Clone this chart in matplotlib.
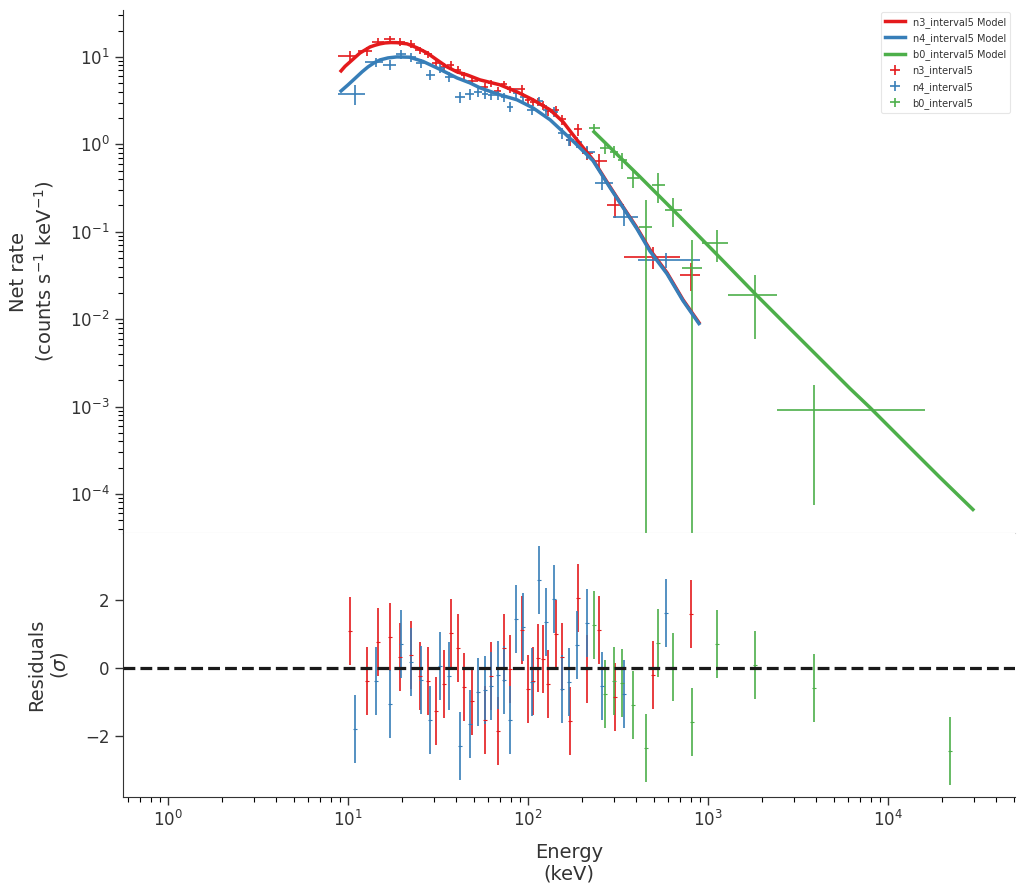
import numpy as np
import matplotlib
matplotlib.use("Agg")
import matplotlib.pyplot as plt

# ---------------- data ----------------
# n3 (red) data
n3_energy = [10.26, 12.75, 14.68, 17.11, 19.45, 22.39, 25.12, 27.83, 30.83, 34.15,
             37.35, 40.84, 44.1, 48.86, 57.7, 62.3, 68.1, 73.6, 79.4, 92.6,
             100.0, 106.6, 113.6, 121.2, 129.2, 143.1, 154.5, 171.1, 189.6, 212.7,
             248.0, 304.3, 494.8, 804.6]
n3_edges = [8.80, 11.36, 13.59, 15.85, 18.24, 20.74, 23.56, 26.44, 29.29, 32.44,
            35.48, 38.8, 42.45, 46.42, 52.75, 59.95, 64.73, 70.79, 76.42, 85.77,
            96.23, 102.6, 109.4, 116.6, 124.3, 135.9, 148.7, 162.6, 180.1, 199.5,
            229.7, 274.8, 341.5, 698.9, 902.8]
n3_rate = [10.27, 11.7, 15.0, 15.85, 14.84, 14.08, 11.9, 10.7, 8.54, 7.69,
           8.1, 7.1, 6.15, 5.32, 4.54, 4.97, 4.03, 4.86, 4.24, 4.25,
           3.23, 3.06, 3.06, 2.83, 2.41, 2.45, 1.93, 1.126, 1.48, 0.80,
           0.639, 0.2035, 0.0518, 0.0323]
n3_err = [1.44, 1.40, 1.5, 1.59, 1.48, 1.41, 1.19, 1.07, 0.85, 0.77,
          0.81, 0.71, 0.62, 0.53, 0.45, 0.50, 0.44, 0.49, 0.42, 0.51,
          0.36, 0.34, 0.34, 0.34, 0.29, 0.32, 0.25, 0.17, 0.22, 0.14,
          0.128, 0.061, 0.0145, 0.0113]
n3_resid = [1.09, -0.38, 0.76, 0.91, 0.32, 0.38, -0.24, -0.38, -1.26, -0.47,
            1.03, 0.59, -0.56, -0.97, -1.53, -0.24, -1.85, 0.59, -0.03, 1.12,
            -0.62, -0.38, 0.29, 0.26, -0.47, 1.0, 0.32, -1.56, 2.06, -0.03,
            1.12, -0.85, -0.21, 1.59]

# n4 (blue) data
n4_energy = [10.94, 14.3, 17.11, 19.7, 22.39, 25.44, 28.55, 32.44, 36.4, 41.9,
             47.6, 52.8, 57.7, 62.3, 68.1, 73.6, 79.4, 85.8, 93.8, 105.2,
             115.1, 125.9, 139.5, 154.5, 169.0, 187.2, 212.7, 257.7, 341.5, 584.5]
n4_edges = [8.80, 12.43, 15.65, 18.36, 21.0, 23.87, 26.96, 30.43, 34.37, 39.05,
            44.67, 50.12, 55.17, 59.95, 65.15, 70.79, 76.42, 82.54, 89.73, 99.36,
            110.1, 120.4, 132.5, 146.8, 161.6, 177.8, 199.5, 234.2, 296.6, 408.4, 902.8]
n4_rate = [3.78, 8.65, 8.10, 10.82, 10.0, 8.54, 6.23, 7.49, 5.91, 3.49,
           3.78, 3.98, 3.78, 3.68, 3.68, 3.44, 2.68, 3.88, 3.49, 2.48,
           3.14, 2.48, 2.35, 1.35, 1.126, 1.068, 0.821, 0.363, 0.148, 0.0478]
n4_err = [0.95, 1.04, 1.05, 1.30, 1.2, 1.02, 0.81, 0.90, 0.77, 0.52,
          0.53, 0.48, 0.45, 0.44, 0.44, 0.41, 0.35, 0.47, 0.42, 0.32,
          0.38, 0.32, 0.31, 0.20, 0.17, 0.16, 0.14, 0.065, 0.033, 0.0096]
n4_resid = [-1.8, -0.38, -1.06, 0.71, 0.18, -0.35, -1.53, 0.06, -0.24, -2.3,
            -1.65, -0.71, -0.65, -0.53, -0.21, -0.35, -1.53, 1.44, 1.2, -0.41,
            2.59, 1.35, 2.03, -0.62, -0.41, 0.68, 1.32, -0.53, -0.76, 1.62]

# b0 (green) data
b0_energy = [233, 268, 300, 333, 383, 453, 527, 639, 815, 1122, 1824, 3882, 22100]
b0_lo = [218, 250, 285, 318, 355, 415, 490, 575, 715, 925, 1300, 2430, 16000]
b0_hi = [250, 285, 318, 355, 415, 490, 575, 715, 925, 1300, 2430, 16000, 30000]
b0_rate = [1.55, 0.912, 0.821, 0.666, 0.414, 0.114, 0.344, 0.178, 0.0388, 0.0748,
           0.0190, 9.25e-4, 1e-6]
b0_err = [0.16, 0.14, 0.13, 0.14, 0.10, 0.118, 0.13, 0.065, 0.042, 0.03,
          0.013, 8.5e-4, 2e-5]
b0_resid = [1.26, -0.76, -0.38, -0.44, -1.09, -2.35, 0.74, 0.03, -1.59, 0.71,
            0.09, -0.59, -2.44]

# model curves
n3_model_E = [9.15, 9.62, 10.26, 10.94, 11.66, 12.43, 13.25, 14.13, 15.06, 16.06,
              17.3, 18.7, 21.3, 24.2, 27.5, 31.2, 35.5, 40.3, 45.8, 54.1, 69.9,
              86.9, 106.6, 132.6, 156.5, 187, 229.7, 285.5, 337, 403, 476, 592,
              726, 891]
n3_model = [6.92, 7.79, 8.77, 9.87, 11.1, 12.0, 13.0, 13.6, 14.1, 14.45,
            14.6, 14.55, 14.1, 12.7, 11.1, 9.24, 7.69, 6.74, 6.23, 5.46, 4.79,
            3.98, 3.23, 2.48, 1.81, 1.125, 0.665, 0.327, 0.193, 0.111, 0.0622,
            0.034, 0.0167, 0.00912]
n4_model_E = [9.15, 10.0, 10.94, 11.96, 12.92, 13.95, 15.06, 16.68, 18.7, 22.0,
              26.1, 31.2, 35.5, 40.3, 47.5, 54.1, 69.9, 86.9, 106.6, 132.6, 156.5,
              182, 229.7, 285.5, 337, 403, 476, 592, 726, 891]
n4_model = [4.08, 4.79, 5.68, 6.74, 7.69, 8.54, 9.24, 9.74, 10.0, 9.92,
            8.88, 7.48, 6.56, 5.75, 5.05, 4.43, 3.68, 3.23, 2.61, 1.91, 1.39,
            1.04, 0.65, 0.32, 0.19, 0.108, 0.060, 0.033, 0.0163, 0.0089]
b0_model_E = [232.6, 419, 699, 1166, 1824, 2855, 4034, 6150, 7943, 13770,
              19430, 29650]
b0_model = [1.39, 0.425, 0.148, 0.0505, 0.0196, 7.79e-3, 3.83e-3, 1.61e-3,
            9.75e-4, 3.14e-4, 1.55e-4, 6.65e-5]

labels = ["n3_interval5", "n4_interval5", "b0_interval5"]
colors = ["#e41a1c", "#377eb8", "#4daf4a"]

# ---------------- figure ----------------
W, H = 1023, 894
fig = plt.figure(figsize=(W / 100, H / 100), dpi=100)
left, right = 123 / W, 1015 / W
y_top, y_mid, y_bot = 1 - 10 / H, 1 - 533 / H, 1 - 797 / H
ax = fig.add_axes([left, y_mid, right - left, y_top - y_mid])
axr = fig.add_axes([left, y_bot, right - left, y_mid - y_bot], sharex=ax)

text_c = "#333333"
for a in (ax, axr):
    a.set_facecolor("white")
    for s in a.spines.values():
        s.set_color(text_c)
    a.tick_params(colors=text_c, labelcolor=text_c, labelsize=12, direction="out")
    a.tick_params(which="major", length=6, width=1)
    a.tick_params(which="minor", length=3.5, width=0.8)

ax.set_xscale("log")
ax.set_yscale("log")

def xerr_from_edges(E, edges):
    E = np.asarray(E)
    ed = np.asarray(edges)
    return np.vstack([E - ed[:-1], ed[1:] - E])

datasets = [
    (n3_energy, xerr_from_edges(n3_energy, n3_edges), n3_rate, n3_err, n3_resid,
     n3_model_E, n3_model),
    (n4_energy, xerr_from_edges(n4_energy, n4_edges), n4_rate, n4_err, n4_resid,
     n4_model_E, n4_model),
    (b0_energy, np.vstack([np.array(b0_energy) - np.array(b0_lo),
                           np.array(b0_hi) - np.array(b0_energy)]),
     b0_rate, b0_err, b0_resid, b0_model_E, b0_model),
]

line_handles, data_handles = [], []
for (E, xe, r, re, res, mE, m), lab, c in zip(datasets, labels, colors):
    h, = ax.plot(mE, m, color=c, lw=2.5, label=lab + " Model", zorder=3,
                 solid_joinstyle="round")
    line_handles.append(h)
for (E, xe, r, re, res, mE, m), lab, c in zip(datasets, labels, colors):
    d = ax.errorbar(E, r, xerr=xe, yerr=re, fmt="none", ecolor=c, elinewidth=1.2,
                    label=lab, zorder=2)
    data_handles.append(d)
    axr.errorbar(E, res, yerr=np.ones(len(res)), fmt="_", color=c, ecolor=c,
                 elinewidth=1.2, ms=3, mew=0.8, zorder=2)

ax.set_xlim(0.562, 50800)
ax.set_ylim(3.58e-5, 34.4)
axr.set_ylim(-3.79, 3.97)
axr.axhline(0, color="#1a1a1a", ls="--", lw=2.3, zorder=4)

ax.spines["top"].set_visible(False)
ax.spines["right"].set_visible(False)
ax.spines["bottom"].set_color("#d4d4d4")
ax.spines["bottom"].set_linewidth(0.8)
ax.tick_params(axis="x", which="both", bottom=False, labelbottom=False)
axr.spines["top"].set_visible(False)
axr.spines["right"].set_visible(False)
axr.set_yticks([-2, 0, 2])

ax.set_ylabel("Net rate\n(counts s$^{-1}$ keV$^{-1}$)", fontsize=14, color=text_c)
axr.set_ylabel("Residuals\n($\\sigma$)", fontsize=14, color=text_c)
axr.set_xlabel("Energy\n(keV)", fontsize=14, color=text_c, labelpad=9)
ax.yaxis.set_label_coords(-0.075, 0.5)
axr.yaxis.set_label_coords(-0.059, 0.5)

leg = ax.legend(handles=line_handles + data_handles, loc="upper right", fontsize=7,
                frameon=True, borderpad=0.45, labelspacing=0.55,
                bbox_to_anchor=(1.0, 1.005))
leg.get_frame().set_edgecolor("#e0e0e0")
leg.get_frame().set_linewidth(0.8)
for t in leg.get_texts():
    t.set_color(text_c)

fig.savefig("out.png", dpi=100, facecolor="white")
